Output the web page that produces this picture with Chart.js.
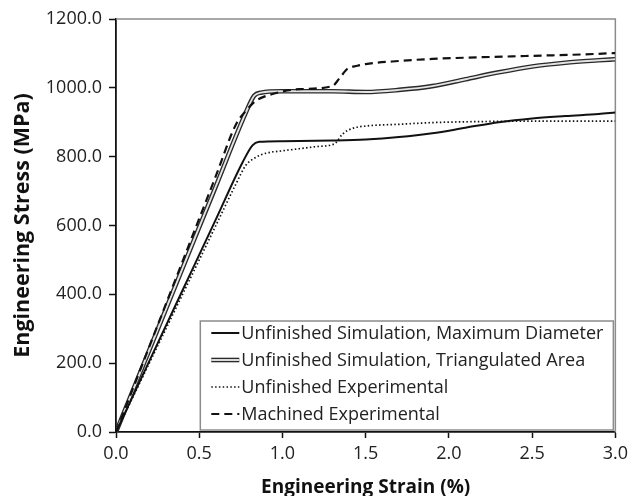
<!DOCTYPE html>
<html>
<head>
<meta charset="utf-8">
<script src="https://cdn.jsdelivr.net/npm/chart.js@4.4.0/dist/chart.umd.min.js"></script>
<style>
  html, body { margin: 0; padding: 0; background: #fff; }
</style>
</head>
<body>
<canvas id="stress-chart" width="633" height="496"></canvas>
<script>
// Values (strain in %, stress in MPa)
const maxDiamStrain = [0, 0.2, 0.4, 0.6, 0.76, 0.82, 0.86, 1.0, 1.3, 1.5, 1.7, 1.9, 2.1, 2.3, 2.5, 2.7, 2.9, 3.0];
const maxDiamStress = [0, 206, 412, 618, 783, 833, 843, 845, 847, 850, 857, 868, 884, 900, 911, 918, 924, 928];

const triAreaStrain = [0, 0.2, 0.4, 0.6, 0.78, 0.83, 0.87, 1.0, 1.3, 1.5, 1.7, 1.9, 2.1, 2.3, 2.5, 2.7, 2.9, 3.0];
const triAreaStress = [0, 238, 476, 714, 928, 977, 986, 990, 990, 988, 994, 1005, 1025, 1045, 1062, 1073, 1080, 1083];

const unfExpStrain = [0, 0.2, 0.4, 0.6, 0.72, 0.78, 0.84, 0.9, 1.0, 1.1, 1.2, 1.3, 1.32, 1.36, 1.42, 1.5, 1.7, 1.9, 2.2, 2.5, 3.0];
const unfExpStress = [0, 200, 400, 600, 720, 775, 798, 810, 817, 823, 829, 835, 840, 865, 882, 889, 894, 899, 902, 903, 903];

const machExpStrain = [0, 0.2, 0.4, 0.6, 0.72, 0.78, 0.84, 0.94, 1.1, 1.3, 1.34, 1.39, 1.45, 1.5, 1.7, 1.9, 2.2, 2.5, 2.8, 3.0];
const machExpStress = [0, 248, 496, 744, 893, 933, 962, 982, 996, 1005, 1026, 1055, 1064, 1069, 1078, 1084, 1089, 1093, 1097, 1101];

const seriesLabels = [
  'Unfinished Simulation, Maximum Diameter',
  'Unfinished Simulation, Triangulated Area',
  'Unfinished Experimental',
  'Machined Experimental'
];

const strainTicks = [0, 0.5, 1.0, 1.5, 2.0, 2.5, 3.0];
const stressTicks = [0, 200, 400, 600, 800, 1000, 1200];

function pts(xs, ys) {
  return xs.map((x, i) => ({ x: x, y: ys[i] }));
}

Chart.defaults.font.family = "'Open Sans', sans-serif";
Chart.defaults.color = '#222';

// gray frame on top and right of the plot
const plotFrame = {
  id: 'plotFrame',
  beforeDatasetsDraw(chart) {
    const a = chart.chartArea;
    const ctx = chart.ctx;
    ctx.save();
    ctx.strokeStyle = '#8c8c8c';
    ctx.lineWidth = 1.5;
    ctx.beginPath();
    ctx.moveTo(a.left, a.top);
    ctx.lineTo(a.right, a.top);
    ctx.lineTo(a.right, a.bottom);
    ctx.stroke();
    ctx.restore();
  }
};

// boxed legend inside the plot, bottom right
const boxLegend = {
  id: 'boxLegend',
  afterDatasetsDraw(chart) {
    const ctx = chart.ctx;
    const a = chart.chartArea;
    const rowH = 27;
    const sampleW = 28;
    ctx.save();
    ctx.font = "18px 'Open Sans', sans-serif";
    let textW = 0;
    seriesLabels.forEach(l => { textW = Math.max(textW, ctx.measureText(l).width); });
    const w = 11 + sampleW + 2 + textW + 10;
    const h = 109;
    const left = a.right - 2 - w;
    const top = a.bottom - 2 - h;
    ctx.fillStyle = '#fff';
    ctx.fillRect(left, top, w, h);
    ctx.strokeStyle = '#8c8c8c';
    ctx.lineWidth = 1.5;
    ctx.strokeRect(left, top, w, h);

    seriesLabels.forEach((label, i) => {
      const y = top + 12 + i * rowH;
      const x0 = left + 11;
      chart.data.datasets.filter(d => d.legendGroup === i).forEach(d => {
        ctx.save();
        ctx.strokeStyle = d.borderColor;
        ctx.lineWidth = d.borderWidth;
        ctx.setLineDash(d.borderDash || []);
        ctx.beginPath();
        ctx.moveTo(x0, y);
        ctx.lineTo(x0 + sampleW, y);
        ctx.stroke();
        ctx.restore();
      });
      ctx.fillStyle = '#222';
      ctx.textBaseline = 'middle';
      ctx.textAlign = 'left';
      ctx.fillText(label, x0 + sampleW + 2, y + 1);
    });
    ctx.restore();
  }
};

const ctx = document.getElementById('stress-chart').getContext('2d');
new Chart(ctx, {
  type: 'scatter',
  data: {
    // lower "order" is painted on top
    datasets: [
      {
        legendGroup: 1,
        order: 5,
        data: pts(triAreaStrain, triAreaStress),
        borderColor: '#2a2a2a',
        borderWidth: 4.6
      },
      {
        legendGroup: 1,
        order: 4,
        data: pts(triAreaStrain, triAreaStress),
        borderColor: '#e4e4e4',
        borderWidth: 1.9
      },
      {
        legendGroup: 0,
        order: 3,
        data: pts(maxDiamStrain, maxDiamStress),
        borderColor: '#111',
        borderWidth: 2
      },
      {
        legendGroup: 2,
        order: 2,
        data: pts(unfExpStrain, unfExpStress),
        borderColor: '#111',
        borderWidth: 1.7,
        borderDash: [1.5, 2.3]
      },
      {
        legendGroup: 3,
        order: 1,
        data: pts(machExpStrain, machExpStress),
        borderColor: '#111',
        borderWidth: 2.2,
        borderDash: [8, 5]
      }
    ].map(d => Object.assign({
      showLine: true,
      pointRadius: 0,
      cubicInterpolationMode: 'monotone',
      fill: false
    }, d))
  },
  options: {
    responsive: false,
    animation: false,
    layout: { padding: { top: 19, right: 16, bottom: 0, left: 0 } },
    plugins: {
      legend: { display: false },
      tooltip: { enabled: false }
    },
    scales: {
      x: {
        type: 'linear',
        min: strainTicks[0],
        max: strainTicks[strainTicks.length - 1],
        afterFit: s => { s.height = 64; },
        afterBuildTicks: s => { s.ticks = strainTicks.map(v => ({ value: v })); },
        ticks: {
          padding: 5,
          font: { size: 18 },
          callback: v => v.toFixed(1)
        },
        grid: { drawOnChartArea: false, drawTicks: true, tickLength: 6, color: '#111', tickWidth: 1.5 },
        border: { color: '#111', width: 1.8 },
        title: {
          display: true,
          text: 'Engineering Strain (%)',
          font: { size: 19, weight: 'bold', lineHeight: 1 },
          padding: { top: 0, bottom: -1 },
          color: '#111'
        }
      },
      y: {
        type: 'linear',
        min: stressTicks[0],
        max: stressTicks[stressTicks.length - 1],
        afterFit: s => { s.width = 116; },
        afterBuildTicks: s => { s.ticks = stressTicks.map(v => ({ value: v })); },
        ticks: {
          padding: 7,
          font: { size: 18 },
          callback: v => v.toFixed(1)
        },
        grid: { drawOnChartArea: false, drawTicks: true, tickLength: 7, color: '#111', tickWidth: 1.5 },
        border: { color: '#111', width: 1.8 },
        title: {
          display: true,
          text: 'Engineering Stress (MPa)',
          font: { size: 21.5, weight: 'bold', lineHeight: 1 },
          padding: { top: 12, bottom: 0 },
          color: '#111'
        }
      }
    }
  },
  plugins: [plotFrame, boxLegend]
});
</script>
</body>
</html>
